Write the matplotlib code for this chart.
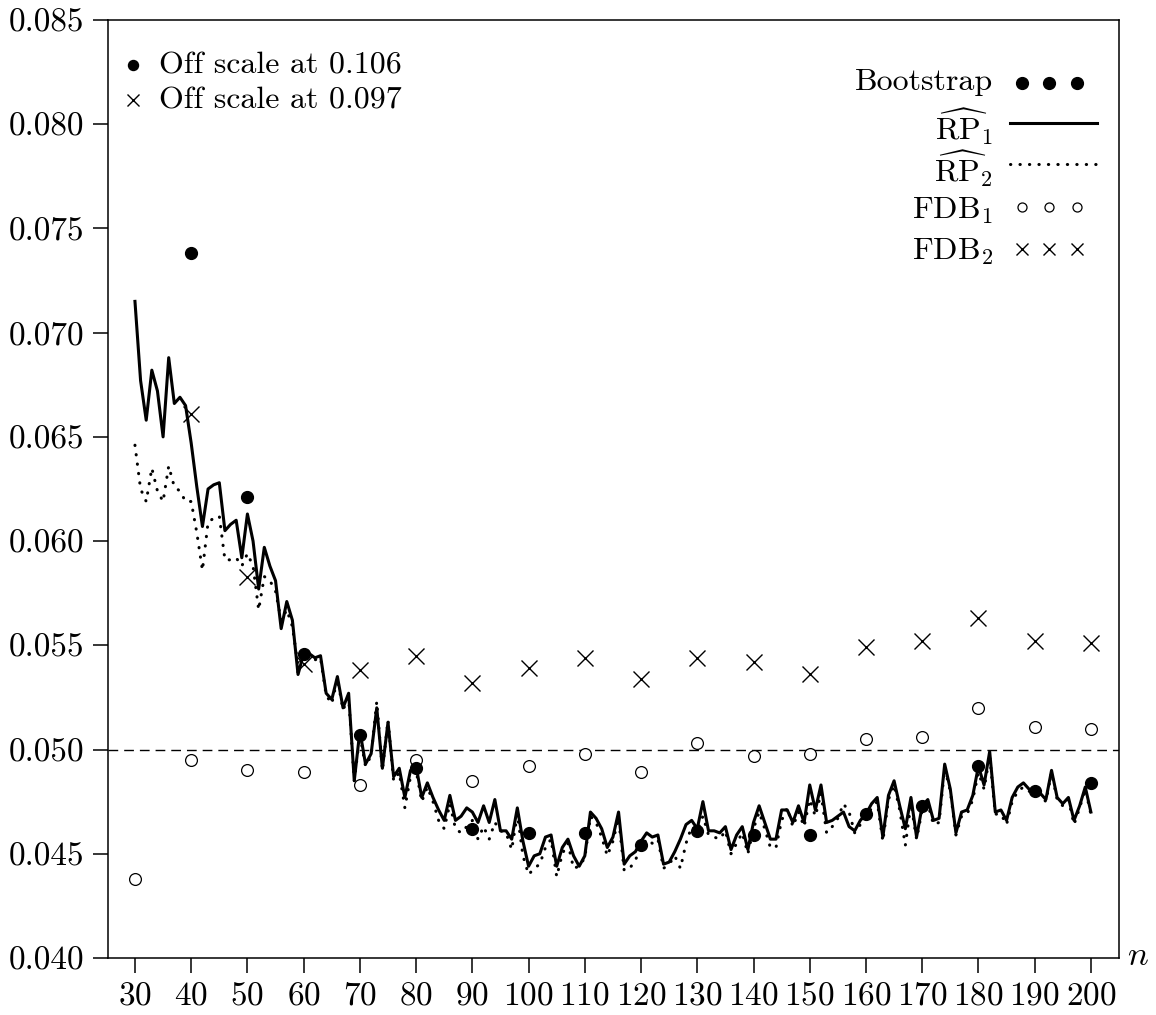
import numpy as np
import matplotlib
matplotlib.use('Agg')
import matplotlib.pyplot as plt
from matplotlib.ticker import FormatStrFormatter, MultipleLocator

# шрифт как в LaTeX
plt.rcParams['font.family'] = 'cmr10'
plt.rcParams['mathtext.fontset'] = 'cm'
plt.rcParams['axes.formatter.use_mathtext'] = True

# размер выборки для кривых
n = np.arange(30, 201)
rp1 = [0.0715, 0.0677, 0.0658, 0.0682, 0.0672, 0.0650, 0.0688, 0.0666, 0.0669, 0.0665,
       0.0647, 0.0626, 0.0607, 0.0625, 0.0627, 0.0628, 0.0605, 0.0608, 0.0610, 0.0592,
       0.0613, 0.0600, 0.0577, 0.0597, 0.0588, 0.0581, 0.0558, 0.0571, 0.0562, 0.0536,
       0.0546, 0.0546, 0.0544, 0.0545, 0.0527, 0.0524, 0.0535, 0.0520, 0.0527, 0.0485,
       0.0509, 0.0493, 0.0498, 0.0520, 0.0491, 0.0513, 0.0487, 0.0491, 0.0477, 0.0490,
       0.0492, 0.0477, 0.0484, 0.0477, 0.0471, 0.0466, 0.0478, 0.0466, 0.0468, 0.0472,
       0.0470, 0.0465, 0.0473, 0.0465, 0.0476, 0.0461, 0.0461, 0.0457, 0.0472, 0.0456,
       0.0444, 0.0449, 0.0450, 0.0458, 0.0459, 0.0444, 0.0453, 0.0457, 0.0449, 0.0444,
       0.0449, 0.0470, 0.0467, 0.0462, 0.0453, 0.0458, 0.0470, 0.0445, 0.0449, 0.0451,
       0.0456, 0.0460, 0.0458, 0.0459, 0.0445, 0.0446, 0.0451, 0.0457, 0.0464, 0.0466,
       0.0462, 0.0475, 0.0461, 0.0461, 0.0460, 0.0463, 0.0452, 0.0459, 0.0463, 0.0452,
       0.0465, 0.0473, 0.0465, 0.0457, 0.0457, 0.0471, 0.0471, 0.0465, 0.0473, 0.0465,
       0.0483, 0.0471, 0.0483, 0.0465, 0.0466, 0.0468, 0.0470, 0.0463, 0.0461, 0.0466,
       0.0469, 0.0474, 0.0477, 0.0458, 0.0478, 0.0485, 0.0473, 0.0462, 0.0477, 0.0458,
       0.0473, 0.0476, 0.0466, 0.0467, 0.0493, 0.0481, 0.0460, 0.0470, 0.0471, 0.0478,
       0.0492, 0.0483, 0.0499, 0.0470, 0.0471, 0.0466, 0.0477, 0.0482, 0.0484, 0.0481,
       0.0480, 0.0479, 0.0476, 0.0490, 0.0477, 0.0474, 0.0477, 0.0466, 0.0473, 0.0482,
       0.0470]
rp2 = [0.0646, 0.0625, 0.0619, 0.0635, 0.0624, 0.0619, 0.0636, 0.0626, 0.0624, 0.0619,
       0.0619, 0.0604, 0.0586, 0.0609, 0.0611, 0.0612, 0.0591, 0.0591, 0.0592, 0.0588,
       0.0594, 0.0588, 0.0567, 0.0583, 0.0581, 0.0576, 0.0562, 0.0567, 0.0559, 0.0540,
       0.0545, 0.0544, 0.0543, 0.0544, 0.0526, 0.0522, 0.0534, 0.0519, 0.0525, 0.0485,
       0.0507, 0.0492, 0.0497, 0.0523, 0.0490, 0.0514, 0.0485, 0.0489, 0.0472, 0.0487,
       0.0490, 0.0475, 0.0482, 0.0475, 0.0466, 0.0462, 0.0474, 0.0462, 0.0460, 0.0463,
       0.0466, 0.0457, 0.0463, 0.0457, 0.0465, 0.0461, 0.0460, 0.0452, 0.0469, 0.0449,
       0.0440, 0.0443, 0.0445, 0.0453, 0.0457, 0.0439, 0.0450, 0.0455, 0.0443, 0.0444,
       0.0448, 0.0468, 0.0465, 0.0458, 0.0449, 0.0456, 0.0467, 0.0442, 0.0443, 0.0447,
       0.0453, 0.0457, 0.0455, 0.0457, 0.0443, 0.0445, 0.0449, 0.0443, 0.0455, 0.0463,
       0.0461, 0.0468, 0.0459, 0.0458, 0.0457, 0.0461, 0.0450, 0.0455, 0.0460, 0.0450,
       0.0462, 0.0470, 0.0462, 0.0453, 0.0453, 0.0466, 0.0472, 0.0463, 0.0470, 0.0463,
       0.0476, 0.0468, 0.0479, 0.0460, 0.0463, 0.0467, 0.0474, 0.0470, 0.0460, 0.0464,
       0.0467, 0.0472, 0.0475, 0.0456, 0.0476, 0.0483, 0.0471, 0.0454, 0.0474, 0.0457,
       0.0471, 0.0474, 0.0464, 0.0465, 0.0491, 0.0480, 0.0459, 0.0468, 0.0469, 0.0476,
       0.0489, 0.0481, 0.0497, 0.0469, 0.0469, 0.0464, 0.0475, 0.0480, 0.0482, 0.0480,
       0.0479, 0.0478, 0.0475, 0.0489, 0.0476, 0.0473, 0.0476, 0.0464, 0.0472, 0.0481,
       0.0469]

# точки через каждые 10 наблюдений (первые значения за пределами шкалы)
n_pts = np.arange(30, 201, 10)
boot = [0.106, 0.0738, 0.0621, 0.0546, 0.0507, 0.0491, 0.0462, 0.0460, 0.0460,
        0.0454, 0.0461, 0.0459, 0.0459, 0.0469, 0.0473, 0.0492, 0.0480, 0.0484]
fdb1 = [0.0438, 0.0495, 0.0490, 0.0489, 0.0483, 0.0495, 0.0485, 0.0492, 0.0498,
        0.0489, 0.0503, 0.0497, 0.0498, 0.0505, 0.0506, 0.0520, 0.0511, 0.0510]
fdb2 = [0.097, 0.0661, 0.0583, 0.0541, 0.0538, 0.0545, 0.0532, 0.0539, 0.0544,
        0.0534, 0.0544, 0.0542, 0.0536, 0.0549, 0.0552, 0.0563, 0.0552, 0.0551]
alpha = 0.05

fig = plt.figure(figsize=(11.56, 10.15), dpi=100)
ax = fig.add_axes([0.0934, 0.0562, 0.8746, 0.9241])

dots = (0, (0.1, 3.0))
ax.axhline(alpha, color='k', lw=1.0, ls=(0, (7, 4.3)))
ax.plot(n, rp2, color='k', lw=2.2, ls=dots, dash_capstyle='round')
ax.plot(n, rp1, color='k', lw=2.2)
ax.plot(n_pts, fdb1, 'o', mfc='white', mec='k', mew=0.9, ms=8.5)
ax.plot(n_pts, fdb2, 'x', color='k', mew=1.0, ms=11)
ax.plot(n_pts, boot, 'o', color='k', ms=8.5)

ax.set_xlim(25.2, 205)
ax.set_ylim(0.040, 0.085)
ax.set_xticks(n_pts)
ax.yaxis.set_major_locator(MultipleLocator(0.005))
ax.yaxis.set_major_formatter(FormatStrFormatter('%.3f'))
ax.tick_params(direction='out', length=11, width=1.1, labelsize=24, pad=6)
for s in ax.spines.values():
    s.set_linewidth(1.1)
ax.text(1.0188, -0.0075, '$n$', transform=ax.transAxes, ha='center',
        va='baseline', fontsize=25)

tr = ax.transAxes
# значения вне шкалы
ax.plot([0.0244], [0.952], 'o', color='k', ms=7.2, transform=tr, clip_on=False)
ax.text(0.0504, 0.943, 'Off scale at %.3f' % boot[0], transform=tr,
        fontsize=23, va='baseline')
ax.plot([0.0244], [0.915], 'x', color='k', ms=8, mew=1.0, transform=tr, clip_on=False)
ax.text(0.0504, 0.906, 'Off scale at %.3f' % fdb2[0], transform=tr,
        fontsize=23, va='baseline')

# легенда: подпись справа налево, значок справа
mx = [0.9045, 0.9308, 0.9585]   # три значка
lx = [0.8922, 0.9782]           # отрезок линии
x_txt = 0.8754
ax.text(x_txt, 0.9254, 'Bootstrap', transform=tr, fontsize=23, ha='right', va='baseline')
ax.plot(mx, [0.9328] * 3, 'o', color='k', ms=8.5, transform=tr, clip_on=False)
ax.text(x_txt, 0.8721, r'$\widehat{\mathrm{RP}}_1$', transform=tr, fontsize=23,
        ha='right', va='baseline')
ax.plot(lx, [0.8902] * 2, color='k', lw=2.2, transform=tr, clip_on=False)
ax.text(x_txt, 0.8276, r'$\widehat{\mathrm{RP}}_2$', transform=tr, fontsize=23,
        ha='right', va='baseline')
ax.plot(lx, [0.8465] * 2, color='k', lw=2.2, ls=dots, dash_capstyle='round',
        transform=tr, clip_on=False)
ax.text(x_txt, 0.7886, r'$\mathrm{FDB}_1$', transform=tr, fontsize=23,
        ha='right', va='baseline')
ax.plot(mx, [0.8006] * 3, 'o', mfc='white', mec='k', mew=0.9, ms=6.5,
        transform=tr, clip_on=False)
ax.text(x_txt, 0.7441, r'$\mathrm{FDB}_2$', transform=tr, fontsize=23,
        ha='right', va='baseline')
ax.plot(mx, [0.7559] * 3, 'x', color='k', mew=1.0, ms=8, transform=tr, clip_on=False)

plt.savefig('out.png', dpi=100)
